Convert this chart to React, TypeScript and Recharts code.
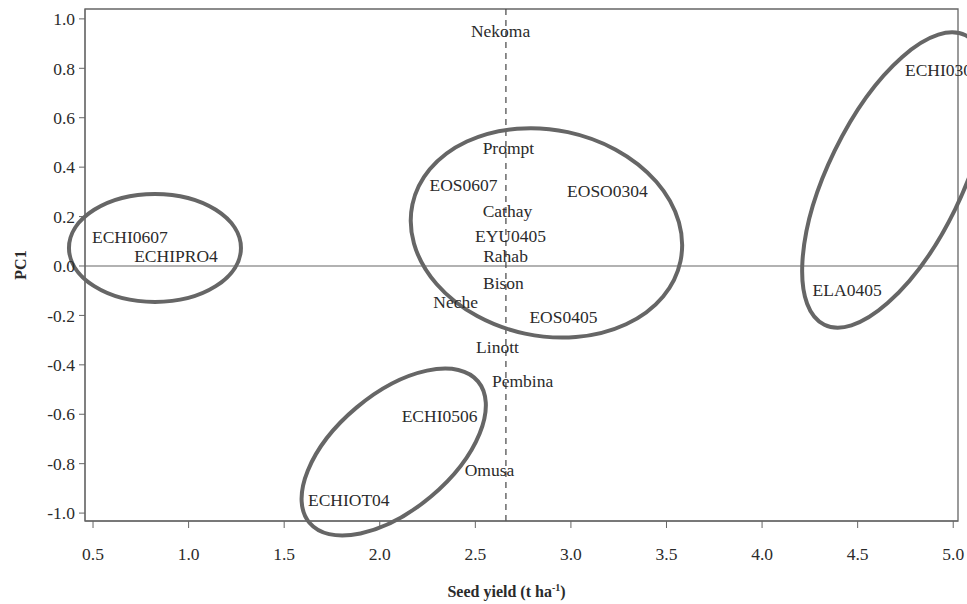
import React from 'react';
import { ScatterChart, Scatter, XAxis, YAxis, ReferenceLine, ReferenceArea } from 'recharts';

// genotype labels and their coordinates (seed yield vs PC1)
const genotypes = [
  'Nekoma', 'ECHI0304', 'Prompt', 'EOS0607', 'EOSO0304', 'Cathay', 'EYU0405', 'Rahab',
  'Bison', 'Neche', 'EOS0405', 'Linott', 'Pembina', 'ECHI0506', 'Omusa', 'ECHIOT04',
  'ECHI0607', 'ECHIPRO4', 'ELA0405',
];
const seedYield = [
  2.632, 4.946, 2.673, 2.438, 3.191, 2.668, 2.684, 2.658,
  2.647, 2.397, 2.961, 2.616, 2.747, 2.313, 2.574, 1.838,
  0.693, 0.934, 4.445,
];
const pc1 = [
  0.951, 0.794, 0.478, 0.328, 0.304, 0.223, 0.121, 0.04,
  -0.069, -0.146, -0.206, -0.328, -0.466, -0.607, -0.826, -0.947,
  0.117, 0.04, -0.097,
];

// group ellipse centres
const groupYield = [0.824, 2.872, 2.073, 4.695];
const groupPc1 = [0.073, 0.134, -0.753, 0.348];

const xTicks = [0.5, 1.0, 1.5, 2.0, 2.5, 3.0, 3.5, 4.0, 4.5, 5.0];
const yTicks = [-1.0, -0.8, -0.6, -0.4, -0.2, 0.0, 0.2, 0.4, 0.6, 0.8, 1.0];
const meanYield = 2.66;

const X_DOMAIN: [number, number] = [0.458, 5.025];
const Y_DOMAIN: [number, number] = [-1.032, 1.04];

// ellipse outline sizes in pixels + rotation
const ELLIPSE_SHAPES = [
  { rx: 86, ry: 54, angle: 0 },
  { rx: 137, ry: 103, angle: 12 },
  { rx: 110, ry: 58, angle: -40 },
  { rx: 161, ry: 67, angle: -64 },
];

const FONT = '"Liberation Serif", "DejaVu Serif", serif';
const TEXT = '#2b2b2b';
const GREY = '#666';

const labelData = genotypes.map((name, i) => ({ name, x: seedYield[i], y: pc1[i] }));
const groupData = groupYield.map((x, i) => ({ x, y: groupPc1[i], idx: i }));

const LabelShape = (props: any) => {
  const { cx, cy, payload } = props;
  return (
    <text x={cx} y={cy} textAnchor="middle" dominantBaseline="central"
      fontFamily={FONT} fontSize={17.5} fill={TEXT}>
      {payload.name}
    </text>
  );
};

const EllipseShape = (props: any) => {
  const { cx, cy, payload } = props;
  const s = ELLIPSE_SHAPES[payload.idx];
  return (
    <ellipse cx={cx} cy={cy} rx={s.rx} ry={s.ry} fill="none" stroke={GREY} strokeWidth={4}
      transform={`rotate(${s.angle} ${cx} ${cy})`} />
  );
};

const XTitle = ({ viewBox }: any) => {
  const { x, y, width } = viewBox;
  return (
    <text x={x + width / 2 - 15} y={y + 76} textAnchor="middle" fontFamily={FONT}
      fontSize={16} fontWeight="bold" fill={TEXT}>
      Seed yield (t ha<tspan dy={-6} fontSize={10}>-1</tspan><tspan dy={6}>)</tspan>
    </text>
  );
};

const YTitle = ({ viewBox }: any) => {
  const { y, height } = viewBox;
  const cy = y + height / 2;
  return (
    <text x={20} y={cy} textAnchor="middle" dominantBaseline="central" fontFamily={FONT}
      fontSize={16} fontWeight="bold" fill={TEXT} transform={`rotate(-90 20 ${cy})`}>
      PC1
    </text>
  );
};

const tickStyle = { fontFamily: FONT, fontSize: 17.5, fill: TEXT };

export default function App() {
  return (
    <div style={{ position: 'absolute', left: 0, top: 0, width: 967, height: 604, background: '#fff' }}>
      <ScatterChart width={967} height={604} margin={{ top: 9, right: 9, left: 0, bottom: 0 }}>
        <XAxis type="number" dataKey="x" domain={X_DOMAIN} ticks={xTicks}
          tickFormatter={(v: number) => v.toFixed(1)} height={83} tickSize={7} tickMargin={20}
          stroke={GREY} tick={tickStyle} label={<XTitle />} />
        <YAxis type="number" dataKey="y" domain={Y_DOMAIN} ticks={yTicks}
          tickFormatter={(v: number) => v.toFixed(1)} width={85} tickSize={6} tickMargin={4}
          stroke={GREY} tick={tickStyle} label={<YTitle />} />
        <ReferenceArea x1={X_DOMAIN[0]} x2={X_DOMAIN[1]} y1={Y_DOMAIN[0]} y2={Y_DOMAIN[1]}
          fill="none" stroke={GREY} strokeWidth={1.3} fillOpacity={0} />
        <ReferenceLine y={0} stroke={GREY} strokeWidth={1.2} />
        <ReferenceLine x={meanYield} stroke="#444" strokeWidth={1.2} strokeDasharray="6 5" />
        <Scatter data={groupData} shape={<EllipseShape />} isAnimationActive={false} />
        <Scatter data={labelData} shape={<LabelShape />} isAnimationActive={false} />
      </ScatterChart>
    </div>
  );
}
